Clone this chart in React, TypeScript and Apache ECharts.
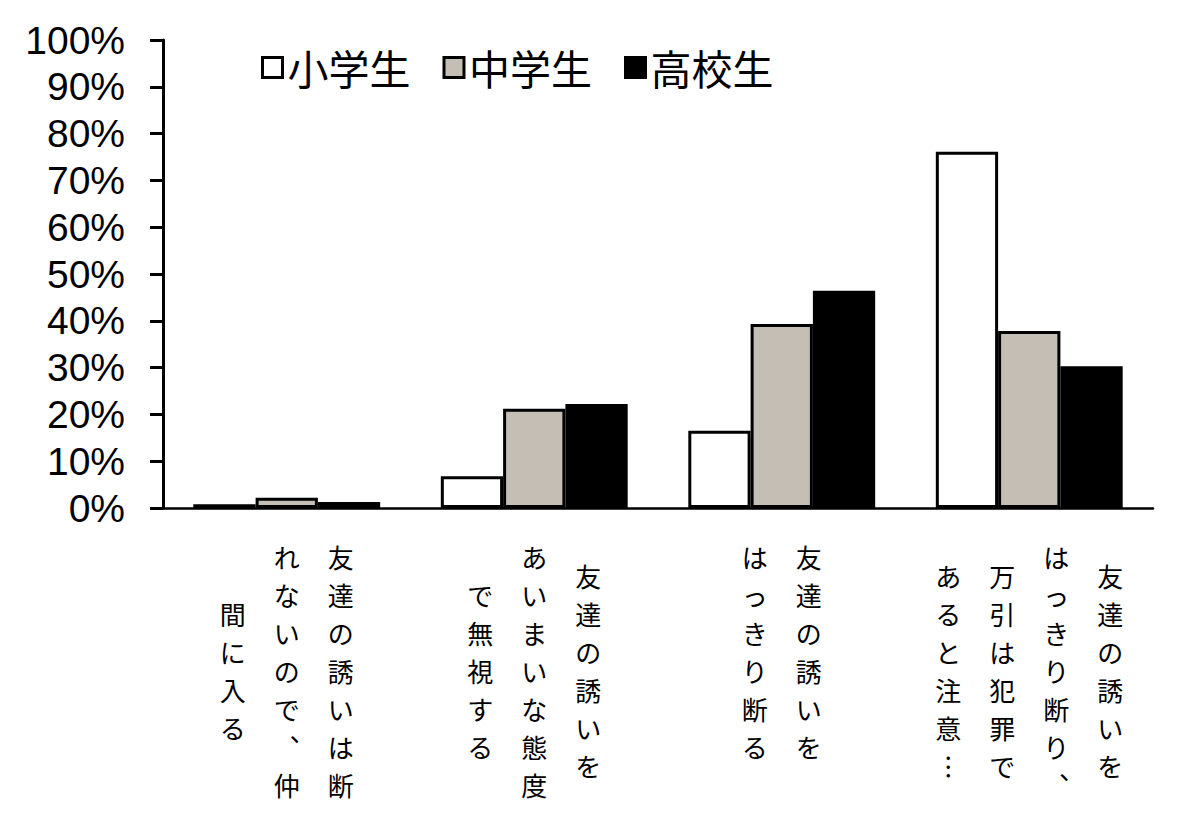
import React, { useEffect, useRef } from "react";
import * as echarts from "echarts";

// Category labels: columns of vertical text, listed in reading order (right to left)
const categories = [
  "友達の誘いは断\nれないので、仲\n間に入る",
  "友達の誘いを\nあいまいな態度\nで無視する",
  "友達の誘いを\nはっきり断る",
  "友達の誘いを\nはっきり断り、\n万引は犯罪で\nあると注意…",
];
const seriesNames = ["小学生", "中学生", "高校生"];
const elementary = [0.8, 6.8, 16.5, 76.1];
const juniorHigh = [2.2, 21.2, 39.3, 37.8];
const highSchool = [1.3, 22.2, 46.4, 30.3];
const seriesValues = [elementary, juniorHigh, highSchool];
const seriesColors = ["#ffffff", "#c4beb4", "#000000"];

const yMin = 0;
const yMax = 100;
const yInterval = 10;

const verticalForms: Record<string, string> = { "、": "︑", "…": "︙" };

function verticalLabel(label: string): string {
  const cols = label.split("\n").map((c) => Array.from(c).map((ch) => verticalForms[ch] ?? ch));
  const display = cols.slice().reverse();
  const maxLen = Math.max(...cols.map((c) => c.length));
  const lines: string[] = [];
  for (let r = 0; r < 2 * maxLen; r++) {
    let line = "";
    for (const col of display) {
      const o = maxLen - col.length;
      const k = r - o;
      const ch = k >= 0 && k % 2 === 0 && k / 2 < col.length ? col[k / 2] : "";
      line += `{c|${ch}}`;
    }
    lines.push(line);
  }
  return lines.join("\n");
}

export default function App() {
  const ref = useRef<HTMLDivElement>(null);
  useEffect(() => {
    if (!ref.current) return;
    const chart = echarts.init(ref.current, undefined, { renderer: "svg" });
    chart.setOption({
      animation: false,
      backgroundColor: "#ffffff",
      grid: { left: 163, right: 47, top: 40, bottom: 313, containLabel: false },
      legend: {
        left: 256,
        top: 42,
        icon: "rect",
        itemWidth: 20,
        itemHeight: 20,
        itemGap: 32,
        data: seriesNames,
        itemStyle: { borderColor: "#000", borderWidth: 3 },
        textStyle: { fontSize: 41, fontFamily: "Noto Sans CJK JP", color: "#000" },
      },
      xAxis: {
        type: "category",
        data: categories,
        axisLine: { show: true, lineStyle: { color: "#000", width: 2.5 } },
        axisTick: { show: false },
        axisLabel: {
          interval: 0,
          margin: 39,
          formatter: (v: string) => verticalLabel(v),
          rich: {
            c: {
              width: 54,
              align: "center",
              fontSize: 26,
              lineHeight: 19,
              fontFamily: "Noto Sans CJK JP",
              color: "#000",
            },
          },
        },
      },
      yAxis: {
        type: "value",
        min: yMin,
        max: yMax,
        interval: yInterval,
        splitLine: { show: false },
        axisLine: { show: true, lineStyle: { color: "#000", width: 3 } },
        axisTick: { show: true, length: 13, lineStyle: { color: "#000", width: 3 } },
        axisLabel: {
          formatter: "{value}%",
          margin: 38,
          fontSize: 39,
          fontFamily: "Liberation Sans, Arial, sans-serif",
          color: "#000",
        },
      },
      series: seriesNames.map((name, i) => ({
        name,
        type: "bar",
        data: seriesValues[i],
        barGap: "0%",
        barCategoryGap: "24.5%",
        itemStyle: { color: seriesColors[i], borderColor: "#000", borderWidth: 3 },
      })),
    });
    return () => chart.dispose();
  }, []);
  return (
    <div
      ref={ref}
      style={{ width: 1200, height: 821, position: "fixed", left: 0, top: 0, background: "#fff" }}
    />
  );
}
